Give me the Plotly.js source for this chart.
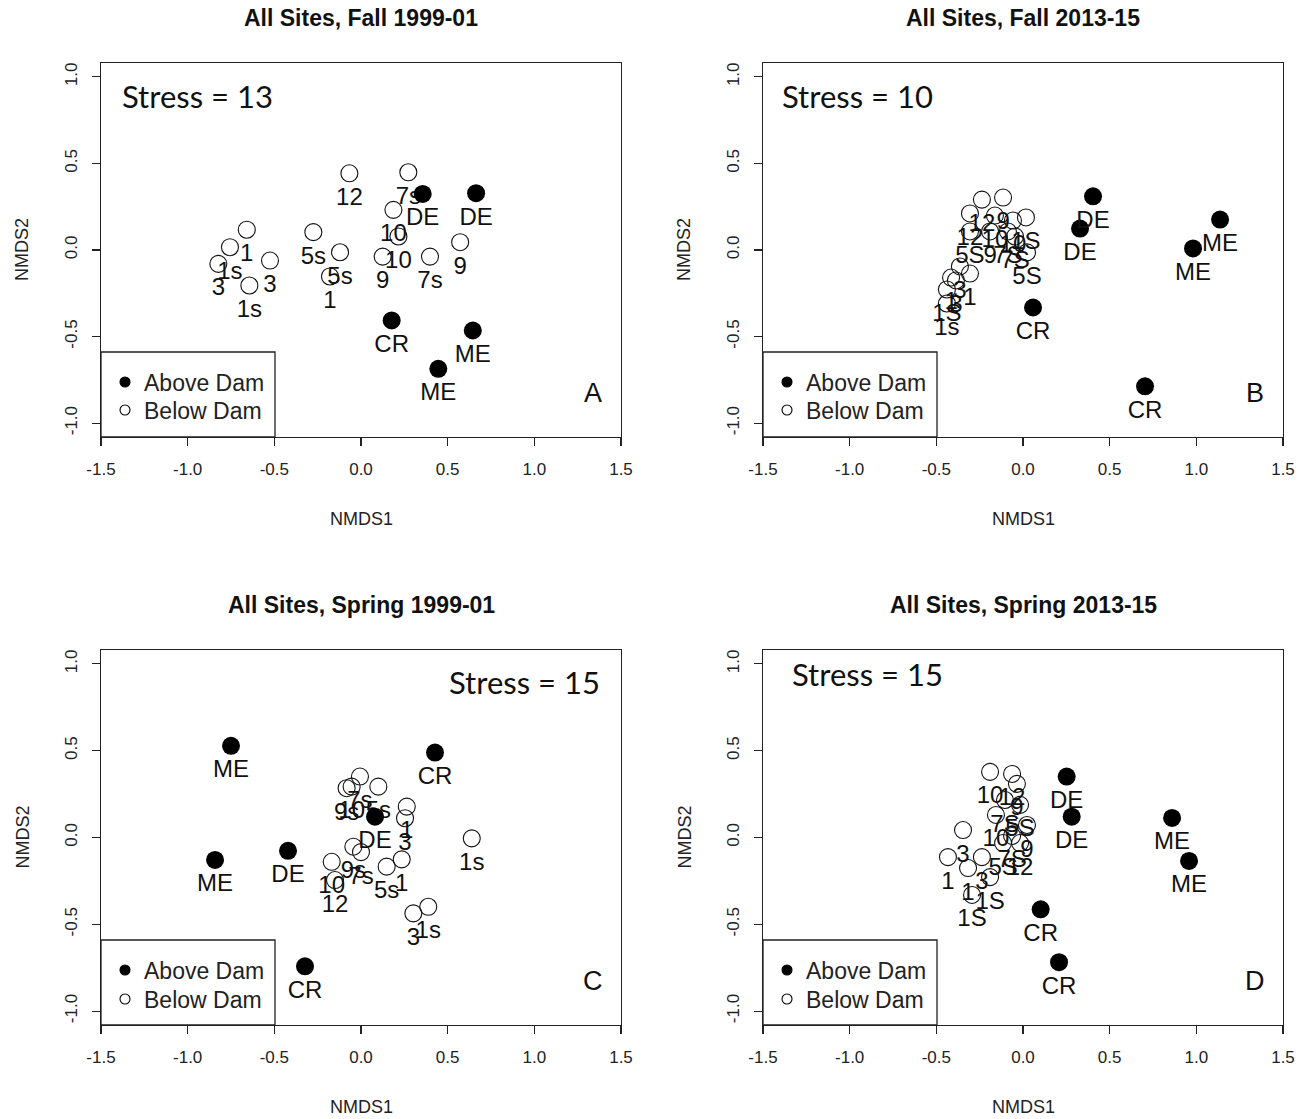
<!DOCTYPE html>
<html>
<head>
<meta charset="utf-8">
<script src="https://cdn.plot.ly/plotly-3.0.1.min.js"></script>
<style>
  html, body { margin: 0; padding: 0; background: #fff; }
  #chart { width: 1313px; height: 1119px; }
</style>
</head>
<body>
<div id="chart"></div>
<script>
// ---- NMDS site scores: Fall 1999-01 ----
const fall99BelowLab = ["12", "7s", "10", "10", "9", "7s", "9", "5s", "5s", "1", "1", "1s", "3", "3", "1s"];
const fall99BelowX = [-0.067, 0.273, 0.187, 0.216, 0.125, 0.398, 0.572, -0.275, -0.121, -0.179, -0.659, -0.756, -0.823, -0.525, -0.644];
const fall99BelowY = [0.443, 0.449, 0.232, 0.078, -0.038, -0.038, 0.045, 0.103, -0.013, -0.153, 0.117, 0.016, -0.080, -0.061, -0.205];
const fall99AboveLab = ["DE", "DE", "CR", "ME", "ME"];
const fall99AboveX = [0.356, 0.664, 0.177, 0.645, 0.446];
const fall99AboveY = [0.324, 0.328, -0.407, -0.465, -0.686];

// ---- NMDS site scores: Fall 2013-15 ----
const fall13BelowLab = ["12", "9", "12", "10", "1S", "5S", "9", "7S", "10", "7S", "5S", "3", "1", "1", "3", "1S", "1s"];
const fall13BelowX = [-0.237, -0.115, -0.306, -0.162, 0.017, -0.306, -0.190, -0.087, -0.058, -0.046, 0.023, -0.364, -0.306, -0.415, -0.387, -0.439, -0.439];
const fall13BelowY = [0.291, 0.303, 0.211, 0.199, 0.188, 0.107, 0.107, 0.107, 0.170, 0.078, -0.014, -0.095, -0.136, -0.159, -0.176, -0.228, -0.309];
const fall13AboveLab = ["DE", "DE", "CR", "CR", "ME", "ME"];
const fall13AboveX = [0.404, 0.329, 0.058, 0.704, 1.137, 0.981];
const fall13AboveY = [0.310, 0.124, -0.332, -0.787, 0.176, 0.009];

// ---- NMDS site scores: Spring 1999-01 ----
const spring99BelowLab = ["7s", "10", "9s", "5s", "1", "3", "9s", "7s", "10", "12", "5s", "1", "1s", "1s", "3"];
const spring99BelowX = [-0.006, -0.054, -0.083, 0.100, 0.264, 0.254, -0.044, 0.000, -0.169, -0.150, 0.148, 0.235, 0.639, 0.388, 0.302];
const spring99BelowY = [0.351, 0.293, 0.284, 0.293, 0.178, 0.111, -0.053, -0.084, -0.140, -0.245, -0.168, -0.126, -0.005, -0.399, -0.437];
const spring99AboveLab = ["ME", "ME", "DE", "DE", "CR", "CR"];
const spring99AboveX = [-0.750, -0.842, -0.421, 0.081, 0.427, -0.323];
const spring99AboveY = [0.528, -0.129, -0.077, 0.120, 0.489, -0.742];

// ---- NMDS site scores: Spring 2013-15 ----
const spring13BelowLab = ["10", "12", "9", "7S", "5S", "10", "9", "5S", "12", "7S", "3", "1", "3", "1", "1S", "1S"];
const spring13BelowX = [-0.190, -0.063, -0.035, -0.104, -0.017, -0.156, 0.023, -0.115, -0.017, -0.063, -0.346, -0.433, -0.237, -0.317, -0.190, -0.294];
const spring13BelowY = [0.378, 0.366, 0.309, 0.216, 0.188, 0.130, 0.072, -0.032, -0.032, 0.009, 0.043, -0.113, -0.113, -0.176, -0.228, -0.331];
const spring13AboveLab = ["DE", "DE", "CR", "CR", "ME", "ME"];
const spring13AboveX = [0.252, 0.281, 0.102, 0.208, 0.860, 0.958];
const spring13AboveY = [0.351, 0.120, -0.414, -0.718, 0.113, -0.135];

// ---- panel texts and ticks ----
const panelTitles = ["All Sites, Fall 1999-01", "All Sites, Fall 2013-15", "All Sites, Spring 1999-01", "All Sites, Spring 2013-15"];
const stressText = ["Stress = 13", "Stress = 10", "Stress = 15", "Stress = 15"];
const panelLetters = ["A", "B", "C", "D"];
const legendLabels = ["Above Dam", "Below Dam"];
const xTicks = [-1.5, -1.0, -0.5, 0.0, 0.5, 1.0, 1.5];
const yTicks = [-1.0, -0.5, 0.0, 0.5, 1.0];

// ---- page geometry (pixels) ----
const W = 1313, H = 1119;
const boxes = [
  { l: 101, r: 621, t: 63, b: 437 },
  { l: 763, r: 1283, t: 63, b: 437 },
  { l: 101, r: 621, t: 650, b: 1025 },
  { l: 763, r: 1283, t: 650, b: 1025 }
];
const px = v => v / W;
const py = v => 1 - v / H;

const INK = "#111";
const SANS = "Liberation Sans, Arial, sans-serif";

const panels = [
  { bx: fall99BelowX, by: fall99BelowY, bl: fall99BelowLab, ax: fall99AboveX, ay: fall99AboveY, al: fall99AboveLab },
  { bx: fall13BelowX, by: fall13BelowY, bl: fall13BelowLab, ax: fall13AboveX, ay: fall13AboveY, al: fall13AboveLab },
  { bx: spring99BelowX, by: spring99BelowY, bl: spring99BelowLab, ax: spring99AboveX, ay: spring99AboveY, al: spring99AboveLab },
  { bx: spring13BelowX, by: spring13BelowY, bl: spring13BelowLab, ax: spring13AboveX, ay: spring13AboveY, al: spring13AboveLab }
];

const traces = [];
const layout = {
  width: W, height: H,
  margin: { l: 0, r: 0, t: 0, b: 0 },
  paper_bgcolor: "#fff", plot_bgcolor: "#fff",
  showlegend: false,
  annotations: [],
  shapes: []
};

const labelFont = { family: SANS, size: 24, color: INK };

// site symbols, then their names set just below each symbol
function addGroup(xs, ys, labs, xa, ya, marker) {
  traces.push({
    type: "scatter", mode: "markers", xaxis: xa, yaxis: ya,
    x: xs, y: ys, cliponaxis: false, hoverinfo: "skip", marker: marker
  });
  traces.push({
    type: "scatter", mode: "markers+text", xaxis: xa, yaxis: ya,
    x: xs, y: ys, text: labs, textposition: "bottom center",
    textfont: labelFont, cliponaxis: false, hoverinfo: "skip",
    marker: { size: 20, color: "rgba(0,0,0,0)", line: { width: 0 } }
  });
}

panels.forEach((p, i) => {
  const n = i === 0 ? "" : String(i + 1);
  const xa = "x" + n, ya = "y" + n;
  const box = boxes[i];

  // below the dam: open circles
  addGroup(p.bx, p.by, p.bl, xa, ya,
    { symbol: "circle-open", size: 17, color: INK, line: { width: 1.1, color: INK } });
  // above the dam: filled circles
  addGroup(p.ax, p.ay, p.al, xa, ya,
    { symbol: "circle", size: 18, color: "#000" });

  const axisCommon = {
    showgrid: false, zeroline: false, showline: true, mirror: true,
    linecolor: "#222", linewidth: 1.3,
    ticks: "outside", ticklen: 8, tickwidth: 1.2, tickcolor: "#222",
    tickfont: { family: SANS, size: 17, color: "#222" },
    fixedrange: true
  };
  layout["xaxis" + n] = Object.assign({}, axisCommon, {
    domain: [px(box.l), px(box.r)], anchor: ya,
    range: [-1.5, 1.5], tickmode: "array", tickvals: xTicks,
    ticktext: xTicks.map(v => v.toFixed(1)), ticklabelstandoff: 8
  });
  layout["yaxis" + n] = Object.assign({}, axisCommon, {
    domain: [py(box.b), py(box.t)], anchor: xa,
    range: [-1.08, 1.08], tickmode: "array", tickvals: yTicks,
    ticktext: yTicks.map(v => v.toFixed(1)), tickangle: -90, ticklabelstandoff: 8
  });

  const cx = (box.l + box.r) / 2;
  const cy = (box.t + box.b) / 2;

  // panel title
  layout.annotations.push({
    xref: "paper", yref: "paper", x: px(cx), y: py(box.t - 45),
    text: "<b>" + panelTitles[i] + "</b>", showarrow: false,
    xanchor: "center", yanchor: "middle",
    font: { family: SANS, size: 23, color: "#111" }
  });
  // axis titles
  layout.annotations.push({
    xref: "paper", yref: "paper", x: px(cx), y: py(box.b + 82),
    text: "NMDS1", showarrow: false, xanchor: "center", yanchor: "middle",
    font: { family: SANS, size: 18, color: "#222" }
  });
  layout.annotations.push({
    xref: "paper", yref: "paper", x: px(box.l - 79), y: py(cy),
    text: "NMDS2", showarrow: false, xanchor: "center", yanchor: "middle", textangle: -90,
    font: { family: SANS, size: 18, color: "#222" }
  });
  // panel letter
  layout.annotations.push({
    xref: "paper", yref: "paper", x: px(box.r - 28), y: py(box.b - 44),
    text: panelLetters[i], showarrow: false, xanchor: "center", yanchor: "middle",
    font: { family: SANS, size: 27, color: INK }
  });

  // legend box in the lower-left corner
  const lg = { l: box.l, r: box.l + 174, t: box.b - 85, b: box.b };
  layout.shapes.push({
    type: "rect", xref: "paper", yref: "paper",
    x0: px(lg.l), x1: px(lg.r), y0: py(lg.b), y1: py(lg.t),
    line: { color: "#222", width: 1.3 }, fillcolor: "rgba(255,255,255,0)"
  });
  const rows = i < 2 ? [lg.t + 30, lg.t + 58] : [lg.t + 30, lg.t + 59];
  rows.forEach((ry, k) => {
    layout.shapes.push({
      type: "circle", xref: "paper", yref: "paper",
      x0: px(lg.l + 24 - 5), x1: px(lg.l + 24 + 5), y0: py(ry + 5), y1: py(ry - 5),
      line: { color: "#000", width: 1.1 },
      fillcolor: k === 0 ? "#000" : "rgba(255,255,255,0)"
    });
    layout.annotations.push({
      xref: "paper", yref: "paper", x: px(lg.l + 41), y: py(ry + 1),
      text: legendLabels[k], showarrow: false, xanchor: "left", yanchor: "middle",
      font: { family: SANS, size: 23, color: "#222" }
    });
  });
});

// stress values
const stressPos = [
  { x: 120, y: 96, a: "left" },
  { x: 780, y: 96, a: "left" },
  { x: 602, y: 682, a: "right" },
  { x: 790, y: 674, a: "left" }
];
stressPos.forEach((s, i) => {
  layout.annotations.push({
    xref: "paper", yref: "paper", x: px(s.x), y: py(s.y),
    text: stressText[i], showarrow: false, xanchor: s.a, yanchor: "middle",
    font: { family: "Lato, Carlito, sans-serif", size: 31, color: "#111" }
  });
});

Plotly.newPlot("chart", traces, layout, { displayModeBar: false, staticPlot: true });
</script>
</body>
</html>
